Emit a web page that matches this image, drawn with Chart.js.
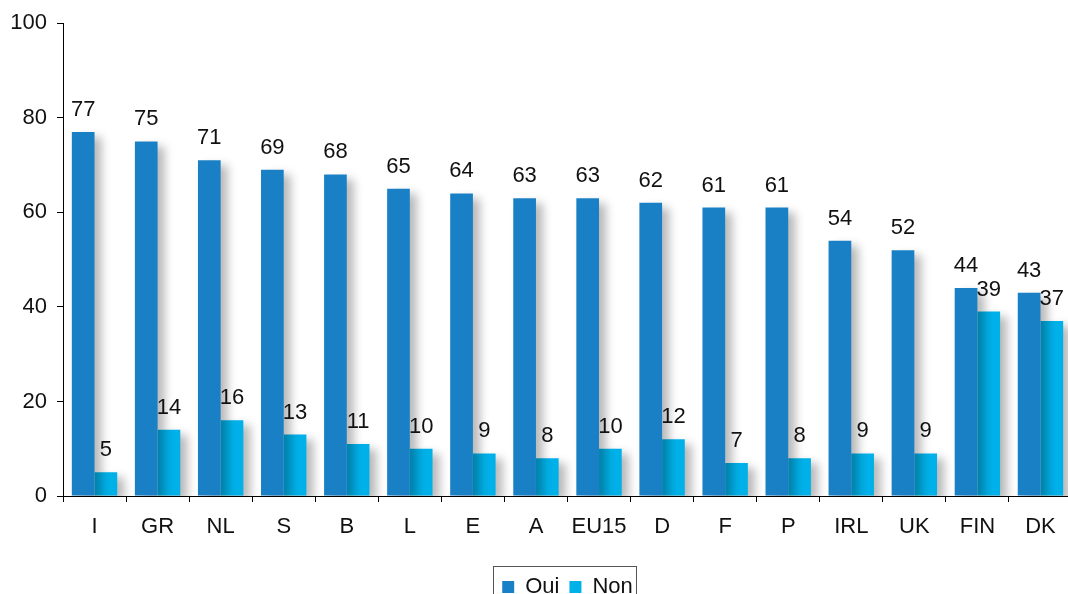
<!DOCTYPE html>
<html>
<head>
<meta charset="utf-8">
<script src="https://cdn.jsdelivr.net/npm/chart.js@4/dist/chart.umd.min.js"></script>
<style>
  html, body { margin: 0; padding: 0; background: #fff; overflow: hidden; }
  #wrap { width: 1072px; height: 608px; }
</style>
</head>
<body>
<div id="wrap"><canvas id="chart"></canvas></div>
<script>
// Données
const countries = ['I', 'GR', 'NL', 'S', 'B', 'L', 'E', 'A', 'EU15', 'D', 'F', 'P', 'IRL', 'UK', 'FIN', 'DK'];
const ouiValues = [77, 75, 71, 69, 68, 65, 64, 63, 63, 62, 61, 61, 54, 52, 44, 43];
const nonValues = [5, 14, 16, 13, 11, 10, 9, 8, 10, 12, 7, 8, 9, 9, 39, 37];
const yTicks = [0, 20, 40, 60, 80, 100];

const FONT = 'Arial, "Liberation Sans", sans-serif';

// étiquettes au-dessus des barres
const valueLabels = {
    id: 'valueLabels',
    afterDatasetsDraw(chart) {
        const ctx = chart.ctx;
        ctx.save();
        ctx.font = '22px ' + FONT;
        ctx.fillStyle = '#111';
        ctx.textAlign = 'center';
        ctx.textBaseline = 'alphabetic';
        chart.data.datasets.forEach((ds, i) => {
            chart.getDatasetMeta(i).data.forEach((bar, j) => {
                ctx.fillText(ds.data[j], bar.x, bar.y - 16);
            });
        });
        ctx.restore();
    }
};

// ombre des barres
const barShadow = {
    id: 'barShadow',
    beforeDatasetsDraw(chart) {
        const ctx = chart.ctx;
        ctx.save();
        ctx.shadowColor = 'rgba(0,0,0,0.28)';
        ctx.shadowBlur = 10;
        ctx.shadowOffsetX = 7;
        ctx.shadowOffsetY = 5;
    },
    afterDatasetsDraw(chart) {
        chart.ctx.restore();
    }
};

// légende centrée sous la zone de tracé + cadre
const legendBox = {
    id: 'legendBox',
    afterLayout(chart) {
        const lg = chart.legend;
        if (!lg) return;
        lg.left = chart.chartArea.left;
        if (typeof lg.adjustHitBoxes === 'function') lg.adjustHitBoxes();
    },
    afterDraw(chart) {
        const lg = chart.legend;
        if (!lg) return;
        const ctx = chart.ctx;
        let minX = Infinity, maxX = -Infinity;
        lg.legendHitBoxes.forEach(b => {
            minX = Math.min(minX, b.left);
            maxX = Math.max(maxX, b.left + b.width);
        });
        ctx.save();
        ctx.strokeStyle = '#555';
        ctx.lineWidth = 1;
        ctx.strokeRect(Math.round(minX - 9) + 0.5, lg.top + 0.5, Math.round(maxX - minX + 12), 40);
        ctx.restore();
    }
};

new Chart(document.getElementById('chart'), {
    type: 'bar',
    data: {
        labels: countries,
        datasets: [
            { label: 'Oui', data: ouiValues, backgroundColor: '#1a80c5' },
            { label: 'Non', data: nonValues, backgroundColor: '#00b1e9' }
        ]
    },
    options: {
        responsive: true,
        maintainAspectRatio: false,
        animation: false,
        layout: { padding: { top: 16, left: 0, right: 0, bottom: 0 } },
        datasets: { bar: { categoryPercentage: 0.72, barPercentage: 1 } },
        plugins: {
            legend: {
                position: 'bottom',
                labels: {
                    font: { size: 22, family: FONT },
                    color: '#111',
                    boxWidth: 12,
                    boxHeight: 12,
                    padding: 10
                }
            },
            tooltip: { enabled: false }
        },
        scales: {
            x: {
                grid: { drawOnChartArea: false, offset: true, tickLength: 6, color: '#000' },
                border: { color: '#000' },
                ticks: { font: { size: 22, family: FONT }, color: '#111', padding: 12, maxRotation: 0 },
                afterFit: (s) => { s.height = 70; }
            },
            y: {
                min: 0,
                max: 100,
                afterBuildTicks: (s) => { s.ticks = yTicks.map(v => ({ value: v })); },
                grid: { drawOnChartArea: false, tickLength: 6, color: '#000' },
                border: { color: '#000' },
                ticks: { font: { size: 22, family: FONT }, color: '#111', padding: 10 },
                afterFit: (s) => { s.width = 63; }
            }
        }
    },
    plugins: [barShadow, valueLabels, legendBox]
});
</script>
</body>
</html>
